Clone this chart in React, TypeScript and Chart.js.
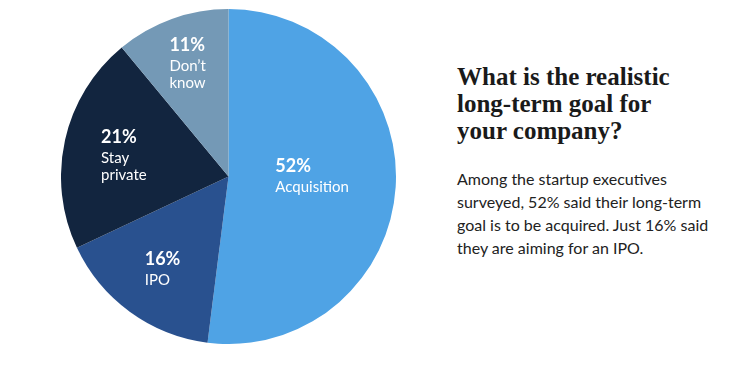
import React, { useEffect, useRef } from "react";
import { Chart, registerables } from "chart.js";

Chart.register(...registerables);

const categories = ["Acquisition", "IPO", "Stay\nprivate", "Don’t\nknow"];
const shares = [52, 16, 21, 11];
const sliceColors = ["#4fa3e5", "#29518f", "#12253f", "#7499b6"];
const labelRadius = [0.5, 0.67, 0.64, 0.72];
const labelNudge = [-6, 1, 2, 0];

const titleLines = ["What is the realistic", "long-term goal for", "your company?"];
const bodyLines = [
  "Among the startup executives",
  "surveyed, 52% said their long-term",
  "goal is to be acquired. Just 16% said",
  "they are aiming for an IPO.",
];

const sliceLabelPlugin = {
  id: "sliceLabels",
  afterDatasetsDraw(chart: any) {
    const ctx = chart.ctx;
    const meta = chart.getDatasetMeta(0);
    meta.data.forEach((arc: any, i: number) => {
      const p = arc.getProps(["x", "y", "startAngle", "endAngle", "outerRadius"], true);
      const mid = (p.startAngle + p.endAngle) / 2;
      const r = p.outerRadius * labelRadius[i];
      const cx = p.x + Math.cos(mid) * r;
      const cy = p.y + Math.sin(mid) * r + labelNudge[i];
      const pct = shares[i] + "%";
      const lines = categories[i].split("\n");
      ctx.save();
      ctx.fillStyle = "#ffffff";
      ctx.textBaseline = "alphabetic";
      ctx.textAlign = "left";
      ctx.font = "bold 18px Lato";
      let maxW = ctx.measureText(pct).width;
      ctx.font = "15px Lato";
      lines.forEach((l) => {
        maxW = Math.max(maxW, ctx.measureText(l).width);
      });
      const capH = 13;
      const blockH = capH + 20 + 17 * (lines.length - 1);
      const top = cy - blockH / 2;
      const left = cx - maxW / 2;
      let base = top + capH;
      ctx.font = "bold 18px Lato";
      ctx.fillText(pct, left, base);
      ctx.font = "15px Lato";
      base += 20;
      lines.forEach((l) => {
        ctx.fillText(l, left, base);
        base += 17;
      });
      ctx.restore();
    });
  },
};

export default function App() {
  const canvasRef = useRef<HTMLCanvasElement | null>(null);

  useEffect(() => {
    if (!canvasRef.current) return;
    const chart = new Chart(canvasRef.current, {
      type: "pie",
      data: {
        labels: categories.map((c) => c.replace("\n", " ")),
        datasets: [
          {
            data: shares,
            backgroundColor: sliceColors,
            borderWidth: 0,
          },
        ],
      },
      options: {
        animation: false,
        responsive: false,
        maintainAspectRatio: false,
        layout: { padding: 0 },
        plugins: {
          legend: { display: false },
          tooltip: { enabled: false },
        },
      },
      plugins: [sliceLabelPlugin],
    });
    return () => chart.destroy();
  }, []);

  return (
    <div
      style={{
        position: "fixed",
        left: 0,
        top: 0,
        width: 755,
        height: 378,
        background: "#ffffff",
        overflow: "hidden",
      }}
    >
      <canvas
        ref={canvasRef}
        width={335}
        height={335}
        style={{ position: "absolute", left: 61, top: 9, width: 335, height: 335 }}
      />
      <div
        style={{
          position: "absolute",
          left: 457,
          top: 63,
          fontFamily: "'Liberation Serif', serif",
          fontWeight: "bold",
          fontSize: 25,
          lineHeight: "27px",
          color: "#1a1a1a",
          whiteSpace: "nowrap",
        }}
      >
        {titleLines.map((t, i) => (
          <div key={i}>{t}</div>
        ))}
      </div>
      <div
        style={{
          position: "absolute",
          left: 457,
          top: 167,
          fontFamily: "Lato, sans-serif",
          fontSize: 16,
          lineHeight: "23px",
          color: "#222222",
          whiteSpace: "nowrap",
        }}
      >
        {bodyLines.map((t, i) => (
          <div key={i}>{t}</div>
        ))}
      </div>
    </div>
  );
}
